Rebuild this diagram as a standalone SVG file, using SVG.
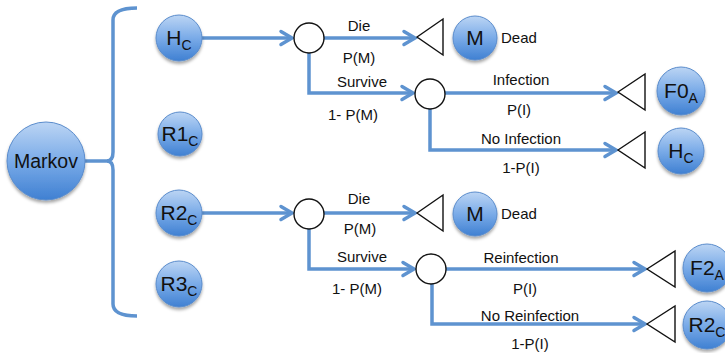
<svg xmlns="http://www.w3.org/2000/svg" width="725" height="353" viewBox="0 0 725 353">
  <defs>
    <linearGradient id="ballFill" x1="0" y1="0" x2="0" y2="1">
      <stop offset="0" stop-color="#bcd5f4"/>
      <stop offset="0.5" stop-color="#7aabe8"/>
      <stop offset="1" stop-color="#3f80d2"/>
    </linearGradient>
    <filter id="shadow" x="-30%" y="-30%" width="160%" height="170%">
      <feDropShadow dx="0" dy="2.5" stdDeviation="1.5" flood-color="#000" flood-opacity="0.35"/>
    </filter>
    <marker id="chev" markerUnits="userSpaceOnUse" markerWidth="16" markerHeight="16" refX="13" refY="8" orient="auto" overflow="visible">
      <path d="M2,1.5 L13,8 L2,14.5" fill="none" stroke="#5e93d0" stroke-width="3.5" stroke-linecap="round" stroke-linejoin="miter"/>
    </marker>
  </defs>
  <style>
    .ball { fill: url(#ballFill); stroke: #5a8ccc; stroke-width: 1; filter: url(#shadow); }
    .chance { fill: #fff; stroke: #111; stroke-width: 1.4; }
    .term { fill: #fff; stroke: #111; stroke-width: 1.4; stroke-linejoin: miter; }
    .wire { fill: none; stroke: #5e93d0; stroke-width: 3.5; }
    .arrow { marker-end: url(#chev); }
    .lbl { font-family: "Liberation Sans", Arial, sans-serif; font-size: 15px; fill: #111; text-anchor: middle; }
    .nm { font-family: "Liberation Sans", Arial, sans-serif; font-size: 21px; fill: #111; text-anchor: middle; }
    .sub { font-size: 14px; }
    .dead { font-family: "Liberation Sans", Arial, sans-serif; font-size: 15px; fill: #111; }
  </style>

  <!-- connectors -->
  <g id="connectors">
    <!-- bracket -->
    <path class="wire" d="M137,8 Q113,8 113,20 L113,152 Q113,161 107,161 Q113,161 113,170 L113,304 Q113,316 137,316"/>
    <line class="wire" x1="85" y1="161" x2="108" y2="161"/>

    <!-- upper tree -->
    <line class="wire arrow" x1="202" y1="38" x2="292" y2="38"/>
    <line class="wire arrow" x1="324" y1="38" x2="415" y2="38"/>
    <path class="wire arrow" d="M309,53 L309,93 L413,93"/>
    <line class="wire arrow" x1="445" y1="93" x2="616" y2="93"/>
    <path class="wire arrow" d="M430,109 L430,150 L616,150"/>

    <!-- lower tree -->
    <line class="wire arrow" x1="202" y1="213" x2="292" y2="213"/>
    <line class="wire arrow" x1="324" y1="213" x2="415" y2="213"/>
    <path class="wire arrow" d="M309,229 L309,269 L414,269"/>
    <line class="wire arrow" x1="446" y1="269" x2="645" y2="269"/>
    <path class="wire arrow" d="M432,284 L432,324 L645,324"/>

    <!-- branch labels -->
    <text class="lbl" x="359" y="31">Die</text>
    <text class="lbl" x="359" y="63">P(M)</text>
    <text class="lbl" x="362" y="87">Survive</text>
    <text class="lbl" x="353" y="120">1- P(M)</text>
    <text class="lbl" x="521" y="85">Infection</text>
    <text class="lbl" x="519" y="115">P(I)</text>
    <text class="lbl" x="521" y="144">No Infection</text>
    <text class="lbl" x="521" y="173">1-P(I)</text>

    <text class="lbl" x="359" y="204">Die</text>
    <text class="lbl" x="360" y="234">P(M)</text>
    <text class="lbl" x="362" y="262">Survive</text>
    <text class="lbl" x="357" y="294">1- P(M)</text>
    <text class="lbl" x="521" y="263">Reinfection</text>
    <text class="lbl" x="525" y="294">P(I)</text>
    <text class="lbl" x="530" y="321">No Reinfection</text>
    <text class="lbl" x="530" y="349">1-P(I)</text>
  </g>

  <!-- chance nodes -->
  <g id="chance1"><circle class="chance" cx="309" cy="38" r="15"/></g>
  <g id="chance2"><circle class="chance" cx="430" cy="94" r="15"/></g>
  <g id="chance3"><circle class="chance" cx="309" cy="214" r="15"/></g>
  <g id="chance4"><circle class="chance" cx="431" cy="269" r="15"/></g>

  <!-- terminal nodes -->
  <g id="term1"><polygon class="term" points="417,37 443,19 443,55"/></g>
  <g id="term2"><polygon class="term" points="618,92 645,74 645,110"/></g>
  <g id="term3"><polygon class="term" points="618,150 645,132 645,168"/></g>
  <g id="term4"><polygon class="term" points="417,213 443,195 443,231"/></g>
  <g id="term5"><polygon class="term" points="647,269 675,251 675,287"/></g>
  <g id="term6"><polygon class="term" points="647,324 675,306 675,342"/></g>

  <!-- state nodes -->
  <g id="markov">
    <circle class="ball" cx="46" cy="161" r="39"/>
    <text class="nm" x="46" y="168" style="font-size:19.5px">Markov</text>
  </g>
  <g id="hc">
    <circle class="ball" cx="179" cy="38" r="23"/>
    <text class="nm" x="179" y="45">H<tspan class="sub" dy="5">C</tspan></text>
  </g>
  <g id="r1c">
    <circle class="ball" cx="180" cy="134" r="22"/>
    <text class="nm" x="180" y="141">R1<tspan class="sub" dy="5">C</tspan></text>
  </g>
  <g id="r2c">
    <circle class="ball" cx="179" cy="213" r="23"/>
    <text class="nm" x="179" y="220">R2<tspan class="sub" dy="5">C</tspan></text>
  </g>
  <g id="r3c">
    <circle class="ball" cx="179" cy="284" r="23"/>
    <text class="nm" x="179" y="291">R3<tspan class="sub" dy="5">C</tspan></text>
  </g>
  <g id="dead1">
    <circle class="ball" cx="475" cy="38" r="22"/>
    <text class="nm" x="475" y="45">M</text>
    <text class="dead" x="501" y="43">Dead</text>
  </g>
  <g id="f0a">
    <circle class="ball" cx="681" cy="91" r="24"/>
    <text class="nm" x="681" y="98">F0<tspan class="sub" dy="5">A</tspan></text>
  </g>
  <g id="hc2">
    <circle class="ball" cx="681" cy="151" r="23"/>
    <text class="nm" x="681" y="158">H<tspan class="sub" dy="5">C</tspan></text>
  </g>
  <g id="dead2">
    <circle class="ball" cx="475" cy="214" r="22"/>
    <text class="nm" x="475" y="221">M</text>
    <text class="dead" x="501" y="219">Dead</text>
  </g>
  <g id="f2a">
    <circle class="ball" cx="707" cy="268" r="24"/>
    <text class="nm" x="707" y="275">F2<tspan class="sub" dy="5">A</tspan></text>
  </g>
  <g id="r2c2">
    <circle class="ball" cx="707" cy="325" r="24"/>
    <text class="nm" x="707" y="332">R2<tspan class="sub" dy="5">C</tspan></text>
  </g>
</svg>
